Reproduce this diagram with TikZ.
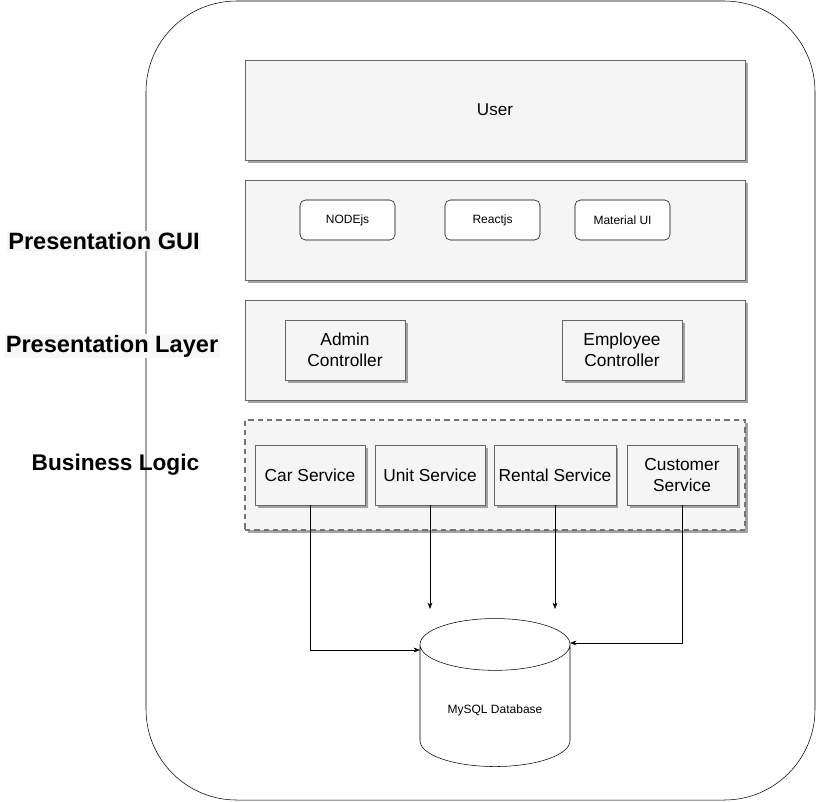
\documentclass[tikz,border=0pt]{standalone}
\usepackage{fontspec}
\setmainfont{Liberation Sans}
\usetikzlibrary{shapes.geometric,shadows,arrows.meta}

\begin{document}
\begin{tikzpicture}[x=0.75pt,y=-0.75pt,>=Stealth]
        \def\px{0.75pt}
        \tikzstyle{frame}=[rectangle, draw=black, rounded corners=68pt, minimum width=669*\px, minimum height=799*\px]
        \tikzstyle{layer}=[rectangle, draw=black!60, fill=black!4, minimum width=500*\px, minimum height=100*\px, font=\fontsize{12.8}{15}\selectfont, drop shadow={shadow xshift=2.5*\px, shadow yshift=-2.5*\px, fill=black!45, opacity=0.8}]
        \tikzstyle{tool}=[rectangle, draw=black, fill=white, rounded corners=4pt, minimum width=95*\px, minimum height=40*\px, font=\fontsize{9}{11}\selectfont]
        \tikzstyle{part}=[rectangle, draw=black!60, fill=black!4, minimum height=60*\px, align=center, font=\fontsize{13}{15.5}\selectfont, drop shadow={shadow xshift=2.5*\px, shadow yshift=-2.5*\px, fill=black!45, opacity=0.8}]
        \tikzstyle{side}=[inner sep=1pt, font=\bfseries\fontsize{17.7}{20}\selectfont]
        \useasboundingbox (0,0) rectangle (816,801);

        % Frame and side labels
        \node[frame] (frame) at (480.5,400.5) {};
        \node[side, fill=white!97!black] (gui lbl) at (104,241) {Presentation GUI};
        \node[side, fill=white!97!black] (ctrl lbl) at (112,346) {Presentation Layer};
        \node[side, font=\bfseries\fontsize{17}{20}\selectfont] (logic lbl) at (115.5,465) {Business Logic};

        % Layers
        \node[layer] (user) at (495,110) {User};
        \node[layer] (gui) at (495,230) {};
        \node[layer] (ctrl) at (495,350) {};
        \node[layer, minimum height=110*\px, draw=black!55, line width=1.1pt, dash pattern=on 4pt off 3pt] (logic) at (495,475) {};

        % GUI tools
        \node[tool] (nodejs) at (347.5,220) {NODEjs};
        \node[tool] (reactjs) at (492.5,220) {Reactjs};
        \node[tool] (material) at (622.5,220) {Material UI};

        % Controllers
        \node[part, minimum width=120*\px] (admin) at (345,350) {Admin\\Controller};
        \node[part, minimum width=120*\px] (employee) at (622,350) {Employee\\Controller};

        % Services
        \node[part, minimum width=110*\px] (car) at (310,475) {Car Service};
        \node[part, minimum width=110*\px] (unit) at (430,475) {Unit Service};
        \node[part, minimum width=120*\px] (rental) at (555,475) {Rental Service};
        \node[part, minimum width=110*\px] (customer) at (682,475) {Customer\\Service};

        % Database
        \node[cylinder, shape border rotate=90, draw=black, fill=white, aspect=0.5, minimum width=150*\px, minimum height=148*\px, font=\fontsize{9}{11}\selectfont] (db) at (495,710) {MySQL Database};
        \coordinate (db left) at (420,650);
        \coordinate (db right) at (570,643);
        \coordinate (unit end) at (430,609);
        \coordinate (rental end) at (555,609);

        % Edges
        \draw [->] (car.south) |- (db left);
        \draw [->] (unit.south) -- (unit end);
        \draw [->] (rental.south) -- (rental end);
        \draw [->] (customer.south) |- (db right);

\end{tikzpicture}
\end{document}
